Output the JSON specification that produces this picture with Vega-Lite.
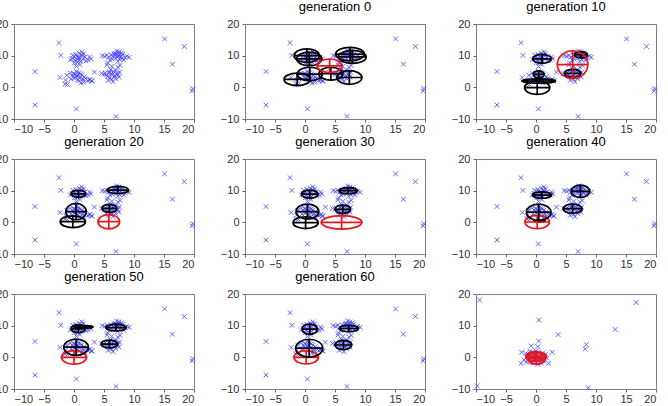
{
  "$schema": "https://vega.github.io/schema/vega-lite/v6.json",
  "padding": {"left": -12, "top": 0, "right": 0, "bottom": 0},
  "background": "white",
  "data": {"values": [
    {"p":[1,2,3,4,5,6,7,8],"x":-2.5,"y":14.1},{"p":[1,2,3,4,5,6,7,8],"x":-2.2,"y":10.1},{"p":[1,2,3,4,5,6,7,8],"x":-6.5,"y":5.0},{"p":[1,2,3,4,5,6,7,8],"x":-6.5,"y":-5.6},
    {"p":[1,2,3,4,5,6,7,8],"x":0.4,"y":-6.8},{"p":[1,2,3,4,5,6,7,8],"x":7.0,"y":-9.2},{"p":[1,2,3,4,5,6,7,8],"x":15.1,"y":15.3},{"p":[1,2,3,4,5,6,7,8],"x":18.4,"y":12.9},
    {"p":[1,2,3,4,5,6,7,8],"x":16.4,"y":7.3},{"p":[1,2,3,4,5,6,7,8],"x":19.7,"y":-1.1},{"p":[1,2,3,4,5,6,7,8],"x":19.8,"y":-0.4},{"p":[1,2,3,4,5,6,7,8],"x":3.4,"y":4.8},
    {"p":[1,2,3,4,5,6,7,8],"x":-2.3,"y":3.1},{"p":[1,2,3,4,5,6,7,8],"x":-1.4,"y":2.3},{"p":[1,2,3,4,5,6,7,8],"x":-1.5,"y":1.0},{"p":[1,2,3,4,5,6,7,8],"x":-1.1,"y":0.9},
    {"p":[1,2,3,4,5,6,7,8],"x":-1.2,"y":3.8},{"p":[1,2,3,4,5,6,7,8],"x":7.7,"y":6.9},{"p":[1,2,3,4,5,6,7,8],"x":7.3,"y":6.4},{"p":[1,2,3,4,5,6,7,8],"x":2.5,"y":2.4},
    {"p":[1,2,3,4,5,6,7,8],"x":2.9,"y":2.0},{"p":[1,2,3,4,5,6,7,8],"x":5.5,"y":7.1},{"p":[1,2,3,4,5,6,7,8],"x":5.6,"y":7.7},{"p":[1,2,3,4,5,6,7,8],"x":4.7,"y":10.0},
    {"p":[1,2,3,4,5,6,7,8],"x":5.1,"y":9.8},
    {"p":[1,2,3,4,5,6,7,8],"x":0.8,"y":9.2},{"p":[1,2,3,4,5,6,7,8],"x":0.5,"y":9.8},{"p":[1,2,3,4,5,6,7,8],"x":1.2,"y":10.3},{"p":[1,2,3,4,5,6,7,8],"x":0.2,"y":8.5},
    {"p":[1,2,3,4,5,6,7,8],"x":1.5,"y":8.8},{"p":[1,2,3,4,5,6,7,8],"x":0.9,"y":10.8},{"p":[1,2,3,4,5,6,7,8],"x":-0.3,"y":9.1},{"p":[1,2,3,4,5,6,7,8],"x":0.6,"y":7.9},
    {"p":[1,2,3,4,5,6,7,8],"x":1.8,"y":9.6},{"p":[1,2,3,4,5,6,7,8],"x":0.3,"y":10.4},{"p":[1,2,3,4,5,6,7,8],"x":1.1,"y":8.2},{"p":[1,2,3,4,5,6,7,8],"x":-0.6,"y":8.7},
    {"p":[1,2,3,4,5,6,7,8],"x":0.7,"y":9.5},{"p":[1,2,3,4,5,6,7,8],"x":1.4,"y":9.9},{"p":[1,2,3,4,5,6,7,8],"x":0.0,"y":9.6},{"p":[1,2,3,4,5,6,7,8],"x":1.0,"y":7.2},
    {"p":[1,2,3,4,5,6,7,8],"x":0.4,"y":6.6},{"p":[1,2,3,4,5,6,7,8],"x":2.0,"y":8.4},{"p":[1,2,3,4,5,6,7,8],"x":-0.2,"y":10.1},{"p":[1,2,3,4,5,6,7,8],"x":1.3,"y":11.2},
    {"p":[1,2,3,4,5,6,7,8],"x":2.6,"y":9.6},{"p":[1,2,3,4,5,6,7,8],"x":2.8,"y":9.0},{"p":[1,2,3,4,5,6,7,8],"x":2.4,"y":8.6},{"p":[1,2,3,4,5,6,7,8],"x":0.8,"y":8.6},
    {"p":[1,2,3,4,5,6,7,8],"x":1.6,"y":10.6},{"p":[1,2,3,4,5,6,7,8],"x":0.1,"y":7.8},
    {"p":[1,2,3,4,5,6,7,8],"x":7.3,"y":10.0},{"p":[1,2,3,4,5,6,7,8],"x":7.0,"y":10.5},{"p":[1,2,3,4,5,6,7,8],"x":7.8,"y":9.6},{"p":[1,2,3,4,5,6,7,8],"x":6.6,"y":9.9},
    {"p":[1,2,3,4,5,6,7,8],"x":8.1,"y":10.4},{"p":[1,2,3,4,5,6,7,8],"x":7.5,"y":11.2},{"p":[1,2,3,4,5,6,7,8],"x":6.9,"y":9.2},{"p":[1,2,3,4,5,6,7,8],"x":7.6,"y":8.8},
    {"p":[1,2,3,4,5,6,7,8],"x":8.5,"y":9.4},{"p":[1,2,3,4,5,6,7,8],"x":6.2,"y":10.2},{"p":[1,2,3,4,5,6,7,8],"x":7.2,"y":9.6},{"p":[1,2,3,4,5,6,7,8],"x":7.9,"y":10.9},
    {"p":[1,2,3,4,5,6,7,8],"x":6.8,"y":10.8},{"p":[1,2,3,4,5,6,7,8],"x":8.8,"y":9.8},{"p":[1,2,3,4,5,6,7,8],"x":5.8,"y":9.5},{"p":[1,2,3,4,5,6,7,8],"x":6.4,"y":8.9},
    {"p":[1,2,3,4,5,6,7,8],"x":7.4,"y":10.6},{"p":[1,2,3,4,5,6,7,8],"x":8.3,"y":8.6},{"p":[1,2,3,4,5,6,7,8],"x":9.2,"y":9.5},{"p":[1,2,3,4,5,6,7,8],"x":5.5,"y":10.1},
    {"p":[1,2,3,4,5,6,7,8],"x":7.1,"y":11.5},{"p":[1,2,3,4,5,6,7,8],"x":6.0,"y":8.6},{"p":[1,2,3,4,5,6,7,8],"x":7.7,"y":10.2},{"p":[1,2,3,4,5,6,7,8],"x":8.0,"y":9.1},
    {"p":[1,2,3,4,5,6,7,8],"x":6.7,"y":10.4},{"p":[1,2,3,4,5,6,7,8],"x":7.3,"y":8.2},
    {"p":[1,2,3,4,5,6,7,8],"x":0.5,"y":3.5},{"p":[1,2,3,4,5,6,7,8],"x":0.2,"y":4.1},{"p":[1,2,3,4,5,6,7,8],"x":1.0,"y":3.0},{"p":[1,2,3,4,5,6,7,8],"x":-0.3,"y":3.8},
    {"p":[1,2,3,4,5,6,7,8],"x":0.8,"y":4.6},{"p":[1,2,3,4,5,6,7,8],"x":1.5,"y":2.6},{"p":[1,2,3,4,5,6,7,8],"x":0.0,"y":2.9},{"p":[1,2,3,4,5,6,7,8],"x":-0.6,"y":4.5},
    {"p":[1,2,3,4,5,6,7,8],"x":1.3,"y":3.9},{"p":[1,2,3,4,5,6,7,8],"x":0.6,"y":2.3},{"p":[1,2,3,4,5,6,7,8],"x":1.9,"y":2.8},{"p":[1,2,3,4,5,6,7,8],"x":2.3,"y":2.1},
    {"p":[1,2,3,4,5,6,7,8],"x":1.6,"y":1.6},{"p":[1,2,3,4,5,6,7,8],"x":-0.5,"y":2.6},{"p":[1,2,3,4,5,6,7,8],"x":0.4,"y":5.0},{"p":[1,2,3,4,5,6,7,8],"x":1.1,"y":4.3},
    {"p":[1,2,3,4,5,6,7,8],"x":0.9,"y":2.0},{"p":[1,2,3,4,5,6,7,8],"x":2.7,"y":2.5},{"p":[1,2,3,4,5,6,7,8],"x":3.0,"y":2.0},{"p":[1,2,3,4,5,6,7,8],"x":0.3,"y":3.2},
    {"p":[1,2,3,4,5,6,7,8],"x":-0.1,"y":4.4},{"p":[1,2,3,4,5,6,7,8],"x":1.7,"y":3.4},{"p":[1,2,3,4,5,6,7,8],"x":1.2,"y":1.4},{"p":[1,2,3,4,5,6,7,8],"x":0.7,"y":3.8},
    {"p":[1,2,3,4,5,6,7,8],"x":6.3,"y":4.0},{"p":[1,2,3,4,5,6,7,8],"x":5.8,"y":4.5},{"p":[1,2,3,4,5,6,7,8],"x":6.8,"y":3.6},{"p":[1,2,3,4,5,6,7,8],"x":5.4,"y":3.9},
    {"p":[1,2,3,4,5,6,7,8],"x":7.2,"y":4.4},{"p":[1,2,3,4,5,6,7,8],"x":6.0,"y":3.1},{"p":[1,2,3,4,5,6,7,8],"x":6.6,"y":5.0},{"p":[1,2,3,4,5,6,7,8],"x":5.2,"y":4.6},
    {"p":[1,2,3,4,5,6,7,8],"x":7.5,"y":3.2},{"p":[1,2,3,4,5,6,7,8],"x":6.2,"y":2.5},{"p":[1,2,3,4,5,6,7,8],"x":5.6,"y":3.4},{"p":[1,2,3,4,5,6,7,8],"x":7.0,"y":5.3},
    {"p":[1,2,3,4,5,6,7,8],"x":6.4,"y":4.6},{"p":[1,2,3,4,5,6,7,8],"x":5.0,"y":4.1},{"p":[1,2,3,4,5,6,7,8],"x":6.9,"y":2.8},{"p":[1,2,3,4,5,6,7,8],"x":7.6,"y":4.8},
    {"p":[1,2,3,4,5,6,7,8],"x":6.1,"y":5.6},{"p":[1,2,3,4,5,6,7,8],"x":5.7,"y":2.2},{"p":[1,2,3,4,5,6,7,8],"x":6.5,"y":1.8},{"p":[1,2,3,4,5,6,7,8],"x":4.6,"y":4.4},
    {"p":[1,2,3,4,5,6,7,8],"x":7.3,"y":3.9},{"p":[1,2,3,4,5,6,7,8],"x":5.9,"y":4.9},{"p":[1,2,3,4,5,6,7,8],"x":6.7,"y":3.3},{"p":[1,2,3,4,5,6,7,8],"x":6.3,"y":6.6},
    {"p":[9],"x":-9.4,"y":18.1},{"p":[9],"x":16.7,"y":17.3},{"p":[9],"x":0.45,"y":11.8},{"p":[9],"x":3.7,"y":7.2},{"p":[9],"x":13.2,"y":8.8},
    {"p":[9],"x":8.4,"y":4.0},{"p":[9],"x":8.2,"y":2.6},{"p":[9],"x":8.7,"y":-9.6},{"p":[9],"x":-9.8,"y":-9.0},{"p":[9],"x":0.45,"y":5.1},
    {"p":[9],"x":0.3,"y":3.4},{"p":[9],"x":-0.8,"y":3.6},{"p":[9],"x":2.7,"y":1.6},{"p":[9],"x":-2.4,"y":1.6},{"p":[9],"x":-2.5,"y":-1.9},{"p":[9],"x":2.1,"y":-1.9},
    {"p":[9],"x":0.0,"y":0.0},{"p":[9],"x":0.3,"y":0.5},{"p":[9],"x":-0.4,"y":0.3},{"p":[9],"x":0.6,"y":-0.4},{"p":[9],"x":-0.8,"y":-0.2},{"p":[9],"x":1.0,"y":0.6},
    {"p":[9],"x":-1.2,"y":0.8},{"p":[9],"x":0.2,"y":-1.0},{"p":[9],"x":-0.3,"y":1.2},{"p":[9],"x":0.9,"y":-1.1},{"p":[9],"x":-1.0,"y":-1.0},{"p":[9],"x":1.4,"y":0.2},
    {"p":[9],"x":-1.5,"y":0.1},{"p":[9],"x":0.5,"y":1.5},{"p":[9],"x":-0.6,"y":1.6},{"p":[9],"x":0.1,"y":-1.6},{"p":[9],"x":-0.2,"y":-0.5},{"p":[9],"x":0.7,"y":0.9},
    {"p":[9],"x":1.2,"y":-0.6},{"p":[9],"x":-1.3,"y":-0.6},{"p":[9],"x":0.4,"y":-0.2},{"p":[9],"x":-0.7,"y":0.7},{"p":[9],"x":1.6,"y":1.0},{"p":[9],"x":-1.7,"y":1.2},
    {"p":[9],"x":0.0,"y":2.0},{"p":[9],"x":0.3,"y":-2.2},{"p":[9],"x":-0.5,"y":-1.8},{"p":[9],"x":1.1,"y":1.4},{"p":[9],"x":-1.0,"y":1.9},{"p":[9],"x":1.8,"y":-0.2},
    {"p":[9],"x":-2.0,"y":-0.8},{"p":[9],"x":0.8,"y":-1.8},{"p":[9],"x":-0.9,"y":-1.5},{"p":[9],"x":0.2,"y":0.8},{"p":[9],"x":-0.1,"y":0.2},{"p":[9],"x":0.5,"y":0.1},
    {"p":[9],"x":-0.4,"y":-0.9},{"p":[9],"x":1.3,"y":-1.3},{"p":[9],"x":-1.6,"y":-1.5},
    {"p":[2],"x":0.3,"y":10.0,"rx":2.1,"ry":2.0,"role":"other"},{"p":[2],"x":0.7,"y":9.0,"rx":2.1,"ry":2.0,"role":"other"},
    {"p":[2],"x":7.5,"y":10.5,"rx":2.4,"ry":2.1,"role":"other"},{"p":[2],"x":7.9,"y":9.6,"rx":2.3,"ry":2.0,"role":"other"},
    {"p":[2],"x":-1.3,"y":2.5,"rx":2.2,"ry":2.0,"role":"other"},{"p":[2],"x":0.8,"y":4.2,"rx":2.1,"ry":2.0,"role":"other"},
    {"p":[2],"x":4.3,"y":4.3,"rx":2.0,"ry":2.0,"role":"other"},{"p":[2],"x":7.4,"y":3.1,"rx":2.1,"ry":2.0,"role":"other"},
    {"p":[2],"x":4.1,"y":6.8,"rx":2.1,"ry":2.1,"role":"active"},
    {"p":[3],"x":1.0,"y":9.0,"rx":1.55,"ry":1.3,"role":"other"},{"p":[3],"x":0.45,"y":4.1,"rx":0.9,"ry":1.2,"role":"other"},
    {"p":[3],"x":0.45,"y":2.0,"rx":2.8,"ry":0.6,"role":"other"},{"p":[3],"x":0.2,"y":-0.1,"rx":2.1,"ry":2.1,"role":"other"},
    {"p":[3],"x":7.5,"y":10.3,"rx":1.1,"ry":1.0,"role":"other"},{"p":[3],"x":6.1,"y":4.4,"rx":1.4,"ry":1.2,"role":"other"},
    {"p":[3],"x":6.1,"y":7.2,"rx":2.55,"ry":4.3,"role":"active"},
    {"p":[4],"x":0.73,"y":9.0,"rx":1.25,"ry":1.1,"role":"other"},{"p":[4],"x":7.3,"y":10.2,"rx":1.8,"ry":1.2,"role":"other"},
    {"p":[4],"x":0.34,"y":3.4,"rx":1.7,"ry":2.6,"role":"other"},{"p":[4],"x":-0.2,"y":0.2,"rx":2.1,"ry":1.8,"role":"other"},
    {"p":[4],"x":5.9,"y":4.4,"rx":1.25,"ry":1.2,"role":"other"},{"p":[4],"x":5.8,"y":0.2,"rx":1.8,"ry":2.2,"role":"active"},
    {"p":[5],"x":0.8,"y":8.9,"rx":1.4,"ry":1.2,"role":"other"},{"p":[5],"x":7.2,"y":10.0,"rx":1.55,"ry":1.2,"role":"other"},
    {"p":[5],"x":0.4,"y":3.4,"rx":1.9,"ry":2.6,"role":"other"},{"p":[5],"x":0.1,"y":-0.1,"rx":2.1,"ry":1.8,"role":"other"},
    {"p":[5],"x":6.3,"y":4.1,"rx":1.3,"ry":1.3,"role":"other"},{"p":[5],"x":6.1,"y":0.0,"rx":3.4,"ry":2.1,"role":"active"},
    {"p":[6],"x":1.0,"y":8.6,"rx":1.6,"ry":1.2,"role":"other"},{"p":[6],"x":7.4,"y":9.8,"rx":1.55,"ry":1.8,"role":"other"},
    {"p":[6],"x":0.45,"y":3.2,"rx":2.05,"ry":2.6,"role":"other"},{"p":[6],"x":6.1,"y":4.3,"rx":1.6,"ry":1.3,"role":"other"},
    {"p":[6],"x":0.6,"y":0.4,"rx":1.0,"ry":0.3,"role":"other"},{"p":[6],"x":0.2,"y":0.1,"rx":2.05,"ry":2.1,"role":"active"},
    {"p":[7],"x":0.7,"y":9.0,"rx":1.2,"ry":1.2,"role":"other"},{"p":[7],"x":1.6,"y":9.6,"rx":1.6,"ry":0.4,"role":"other"},
    {"p":[7],"x":7.0,"y":9.4,"rx":1.7,"ry":1.3,"role":"other"},{"p":[7],"x":0.35,"y":3.2,"rx":2.05,"ry":2.5,"role":"other"},
    {"p":[7],"x":5.9,"y":4.2,"rx":1.4,"ry":1.3,"role":"other"},{"p":[7],"x":0.0,"y":0.0,"rx":2.1,"ry":2.0,"role":"active"},
    {"p":[8],"x":0.8,"y":8.9,"rx":1.3,"ry":1.6,"role":"other"},{"p":[8],"x":7.3,"y":9.1,"rx":1.6,"ry":1.2,"role":"other"},
    {"p":[8],"x":0.7,"y":2.9,"rx":2.25,"ry":2.6,"role":"other"},{"p":[8],"x":6.4,"y":3.9,"rx":1.4,"ry":1.5,"role":"other"},
    {"p":[8],"x":0.2,"y":0.0,"rx":2.05,"ry":2.2,"role":"active"},
    {"p":[9],"x":0.0,"y":0.2,"rx":1.7,"ry":1.6,"role":"active"},{"p":[9],"x":0.1,"y":-0.3,"rx":1.5,"ry":1.9,"role":"active"},
    {"p":[9],"x":-0.2,"y":0.3,"rx":1.2,"ry":1.5,"role":"active"}
  ]},
  "transform": [{"flatten": ["p"]}],
  "facet": {
    "field": "p", "type": "ordinal", "title": null,
    "header": {"labelExpr": "datum.value == 1 || datum.value == 9 ? ' ' : 'generation ' + (datum.value - 2) * 10", "labelFontSize": 13, "labelFont": "Liberation Sans", "labelColor": "#000000", "labelPadding": 4}
  },
  "columns": 3,
  "spacing": {"row": 0, "column": 21},
  "resolve": {"axis": {"x": "independent", "y": "independent"}},
  "spec": {
    "width": 180, "height": 95,
    "encoding": {
      "x": {"field": "x", "type": "quantitative", "scale": {"domain": [-10, 20], "nice": false, "zero": false}, "axis": {"values": [-10, -5, 0, 5, 10, 15, 20], "title": null}},
      "y": {"field": "y", "type": "quantitative", "scale": {"domain": [-10, 20], "nice": false, "zero": false}, "axis": {"values": [-10, 0, 10, 20], "title": null}}
    },
    "layer": [
      {"transform": [{"filter": "!isValid(datum.rx)"}],
       "mark": {"type": "point", "shape": "M-1,-1L1,1M-1,1L1,-1", "size": 22, "filled": false, "stroke": "#4545ff", "strokeWidth": 0.9, "opacity": 0.9}},
      {"transform": [{"filter": "isValid(datum.rx) && datum.ry / datum.rx < 0.4"}],
       "mark": {"type": "point", "filled": false, "opacity": 1, "strokeWidth": 1.7, "shape": "M1,0C1,0.072 0.552,0.13 0,0.13C-0.552,0.13 -1,0.072 -1,0C-1,-0.072 -0.552,-0.13 0,-0.13C0.552,-0.13 1,-0.072 1,0ZM-1,0L1,0M0,-0.13L0,0.13"},
       "encoding": {"size": {"field": "rx", "type": "quantitative", "scale": {"type": "pow", "exponent": 2, "domain": [0, 5], "range": [0, 3600]}, "legend": null},
                    "stroke": {"field": "role", "type": "nominal", "scale": {"domain": ["other", "active"], "range": ["#000000", "#e8161c"]}, "legend": null}}},
      {"transform": [{"filter": "isValid(datum.rx) && datum.ry / datum.rx >= 0.4 && datum.ry / datum.rx < 0.8"}],
       "mark": {"type": "point", "filled": false, "opacity": 1, "strokeWidth": 1.7, "shape": "M1,0C1,0.182 0.552,0.33 0,0.33C-0.552,0.33 -1,0.182 -1,0C-1,-0.182 -0.552,-0.33 0,-0.33C0.552,-0.33 1,-0.182 1,0ZM-1,0L1,0M0,-0.33L0,0.33"},
       "encoding": {"size": {"field": "rx", "type": "quantitative", "legend": null}, "stroke": {"field": "role", "type": "nominal", "legend": null}}},
      {"transform": [{"filter": "isValid(datum.rx) && datum.ry / datum.rx >= 0.8 && datum.ry / datum.rx < 0.95"}],
       "mark": {"type": "point", "filled": false, "opacity": 1, "strokeWidth": 1.7, "shape": "M1,0C1,0.259 0.552,0.47 0,0.47C-0.552,0.47 -1,0.259 -1,0C-1,-0.259 -0.552,-0.47 0,-0.47C0.552,-0.47 1,-0.259 1,0ZM-1,0L1,0M0,-0.47L0,0.47"},
       "encoding": {"size": {"field": "rx", "type": "quantitative", "legend": null}, "stroke": {"field": "role", "type": "nominal", "legend": null}}},
      {"transform": [{"filter": "isValid(datum.rx) && datum.ry / datum.rx >= 0.95 && datum.ry / datum.rx < 1.12"}],
       "mark": {"type": "point", "filled": false, "opacity": 1, "strokeWidth": 1.7, "shape": "M1,0C1,0.298 0.552,0.54 0,0.54C-0.552,0.54 -1,0.298 -1,0C-1,-0.298 -0.552,-0.54 0,-0.54C0.552,-0.54 1,-0.298 1,0ZM-1,0L1,0M0,-0.54L0,0.54"},
       "encoding": {"size": {"field": "rx", "type": "quantitative", "legend": null}, "stroke": {"field": "role", "type": "nominal", "legend": null}}},
      {"transform": [{"filter": "isValid(datum.rx) && datum.ry / datum.rx >= 1.12 && datum.ry / datum.rx < 1.4"}],
       "mark": {"type": "point", "filled": false, "opacity": 1, "strokeWidth": 1.7, "shape": "M1,0C1,0.364 0.552,0.66 0,0.66C-0.552,0.66 -1,0.364 -1,0C-1,-0.364 -0.552,-0.66 0,-0.66C0.552,-0.66 1,-0.364 1,0ZM-1,0L1,0M0,-0.66L0,0.66"},
       "encoding": {"size": {"field": "rx", "type": "quantitative", "legend": null}, "stroke": {"field": "role", "type": "nominal", "legend": null}}},
      {"transform": [{"filter": "isValid(datum.rx) && datum.ry / datum.rx >= 1.4 && datum.ry / datum.rx < 1.62"}],
       "mark": {"type": "point", "filled": false, "opacity": 1, "strokeWidth": 1.7, "shape": "M1,0C1,0.442 0.552,0.8 0,0.8C-0.552,0.8 -1,0.442 -1,0C-1,-0.442 -0.552,-0.8 0,-0.8C0.552,-0.8 1,-0.442 1,0ZM-1,0L1,0M0,-0.8L0,0.8"},
       "encoding": {"size": {"field": "rx", "type": "quantitative", "legend": null}, "stroke": {"field": "role", "type": "nominal", "legend": null}}},
      {"transform": [{"filter": "isValid(datum.rx) && datum.ry / datum.rx >= 1.62"}],
       "mark": {"type": "point", "filled": false, "opacity": 1, "strokeWidth": 1.7, "shape": "M1,0C1,0.497 0.552,0.9 0,0.9C-0.552,0.9 -1,0.497 -1,0C-1,-0.497 -0.552,-0.9 0,-0.9C0.552,-0.9 1,-0.497 1,0ZM-1,0L1,0M0,-0.9L0,0.9"},
       "encoding": {"size": {"field": "rx", "type": "quantitative", "legend": null}, "stroke": {"field": "role", "type": "nominal", "legend": null}}}
    ]
  },
  "config": {
    "view": {"stroke": "#7f7f7f", "strokeWidth": 1},
    "axis": {"grid": false, "domain": false, "labelFont": "Liberation Sans", "labelFontSize": 11, "labelColor": "#333333", "tickColor": "#666666", "tickSize": 3, "labelPadding": 1},
    "axisY": {"labelPadding": 3}
  }
}
